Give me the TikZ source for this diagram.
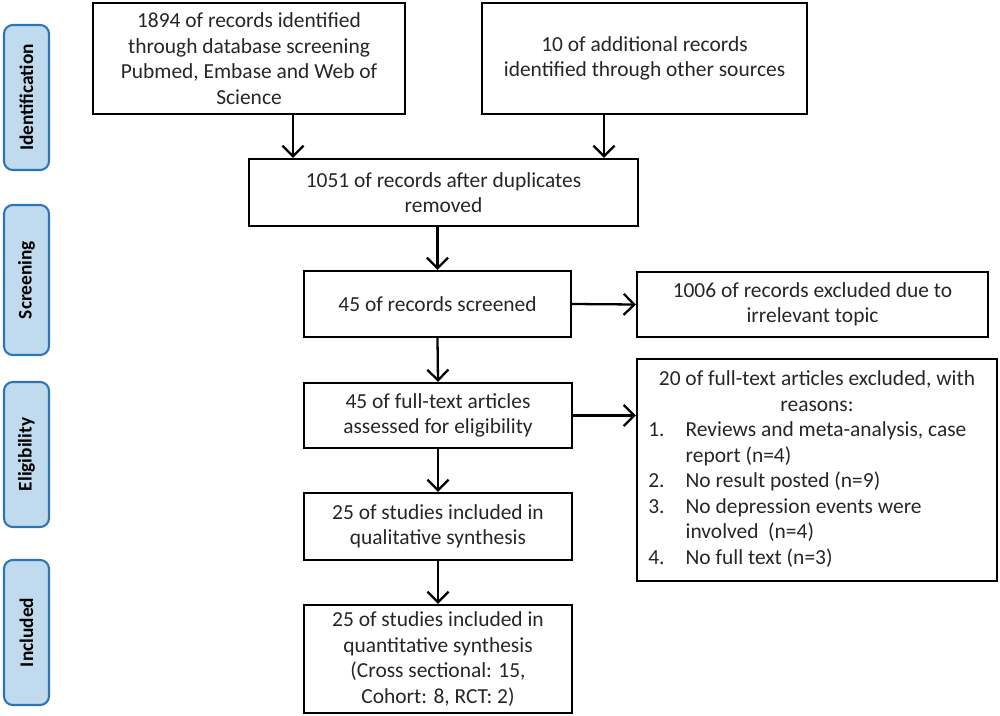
\documentclass[tikz,border=0pt]{standalone}
\usepackage{fontspec}
\setmainfont{Carlito}
\usetikzlibrary{arrows.meta}
\definecolor{stagefill}{RGB}{192,218,238}
\definecolor{stageline}{RGB}{46,117,182}
\definecolor{txt}{RGB}{38,38,38}
\tikzset{
  box/.style={draw=black,line width=1.3pt,align=center,text=txt,
    font=\fontsize{12.2}{14.5}\selectfont,inner sep=2pt},
  stage/.style={draw=stageline,fill=stagefill,line width=1.2pt,rounded corners=5pt,
    rotate=90,minimum height=0.9cm,font=\bfseries\fontsize{11}{13}\selectfont,text=black},
  arr/.style={line width=1.3pt,-{Straight Barb[length=6pt,width=12pt,line width=1.3pt]}}
}
\begin{document}
\begin{tikzpicture}
  \useasboundingbox (0,0) rectangle (20,-14.32);
  % stages
  \node[stage,minimum width=2.9cm] (ident) at (0.53,-1.95) {Identification};
  \node[stage,minimum width=3.0cm] (screen) at (0.53,-5.6) {Screening};
  \node[stage,minimum width=2.9cm] (elig) at (0.53,-9.09) {Eligibility};
  \node[stage,minimum width=2.9cm] (incl) at (0.53,-12.65) {Included};
  % boxes
  \node[box,minimum width=6.24cm,minimum height=2.22cm] (db) at (4.98,-1.17)
    {1894 of records identified\\through database screening\\Pubmed, Embase and Web of\\Science};
  \node[box,minimum width=6.5cm,minimum height=2.22cm] (other) at (12.89,-1.17)
    {10 of additional records\\identified through other sources};
  \node[box,minimum width=7.78cm,minimum height=1.34cm] (dup) at (8.87,-3.85)
    {1051 of records after duplicates\\removed};
  \node[box,minimum width=5.34cm,minimum height=1.32cm] (scr) at (8.75,-6.08)
    {45 of records screened};
  \node[box,minimum width=7.02cm,minimum height=1.3cm] (excl) at (16.25,-6.09)
    {1006 of records excluded due to\\irrelevant topic};
  \node[box,minimum width=5.36cm,minimum height=1.3cm] (full) at (8.76,-8.31)
    {45 of full-text articles\\assessed for eligibility};
  \node[box,minimum width=7.2cm,minimum height=4.44cm] (reas) at (16.34,-9.4)
    {\begin{tabular}{@{}l@{\hspace{0.42cm}}l@{}}
      \multicolumn{2}{c}{20 of full-text articles excluded, with}\\
      \multicolumn{2}{c}{reasons:}\\
      1. & Reviews and meta-analysis, case\\
         & report (n=4)\\
      2. & No result posted (n=9)\\
      3. & No depression events were\\
         & involved~~(n=4)\\
      4. & No full text (n=3)
    \end{tabular}};
  \node[box,minimum width=5.36cm,minimum height=1.34cm] (qual) at (8.76,-10.53)
    {25 of studies included in\\qualitative synthesis};
  \node[box,minimum width=5.36cm,minimum height=2.16cm] (quan) at (8.76,-13.18)
    {25 of studies included in\\quantitative synthesis\\(Cross sectional: 15,\\Cohort: 8, RCT: 2)};
  \coordinate (dbout) at (5.86,-2.28);
  \coordinate (otherout) at (12.08,-2.28);
  \begin{scope}[arr]
    \draw (dbout) to (dbout |- dup.north);
    \draw (otherout) to (otherout |- dup.north);
    \draw (dup.south -| scr.north) to (scr.north);
    \draw (scr.east) to (excl.west);
    \draw (full.east) to (full.east -| reas.west);
    \draw (scr.south) to (full.north);
    \draw (full.south) to (qual.north);
    \draw (qual.south) to (quan.north);
  \end{scope}
\end{tikzpicture}
\end{document}
